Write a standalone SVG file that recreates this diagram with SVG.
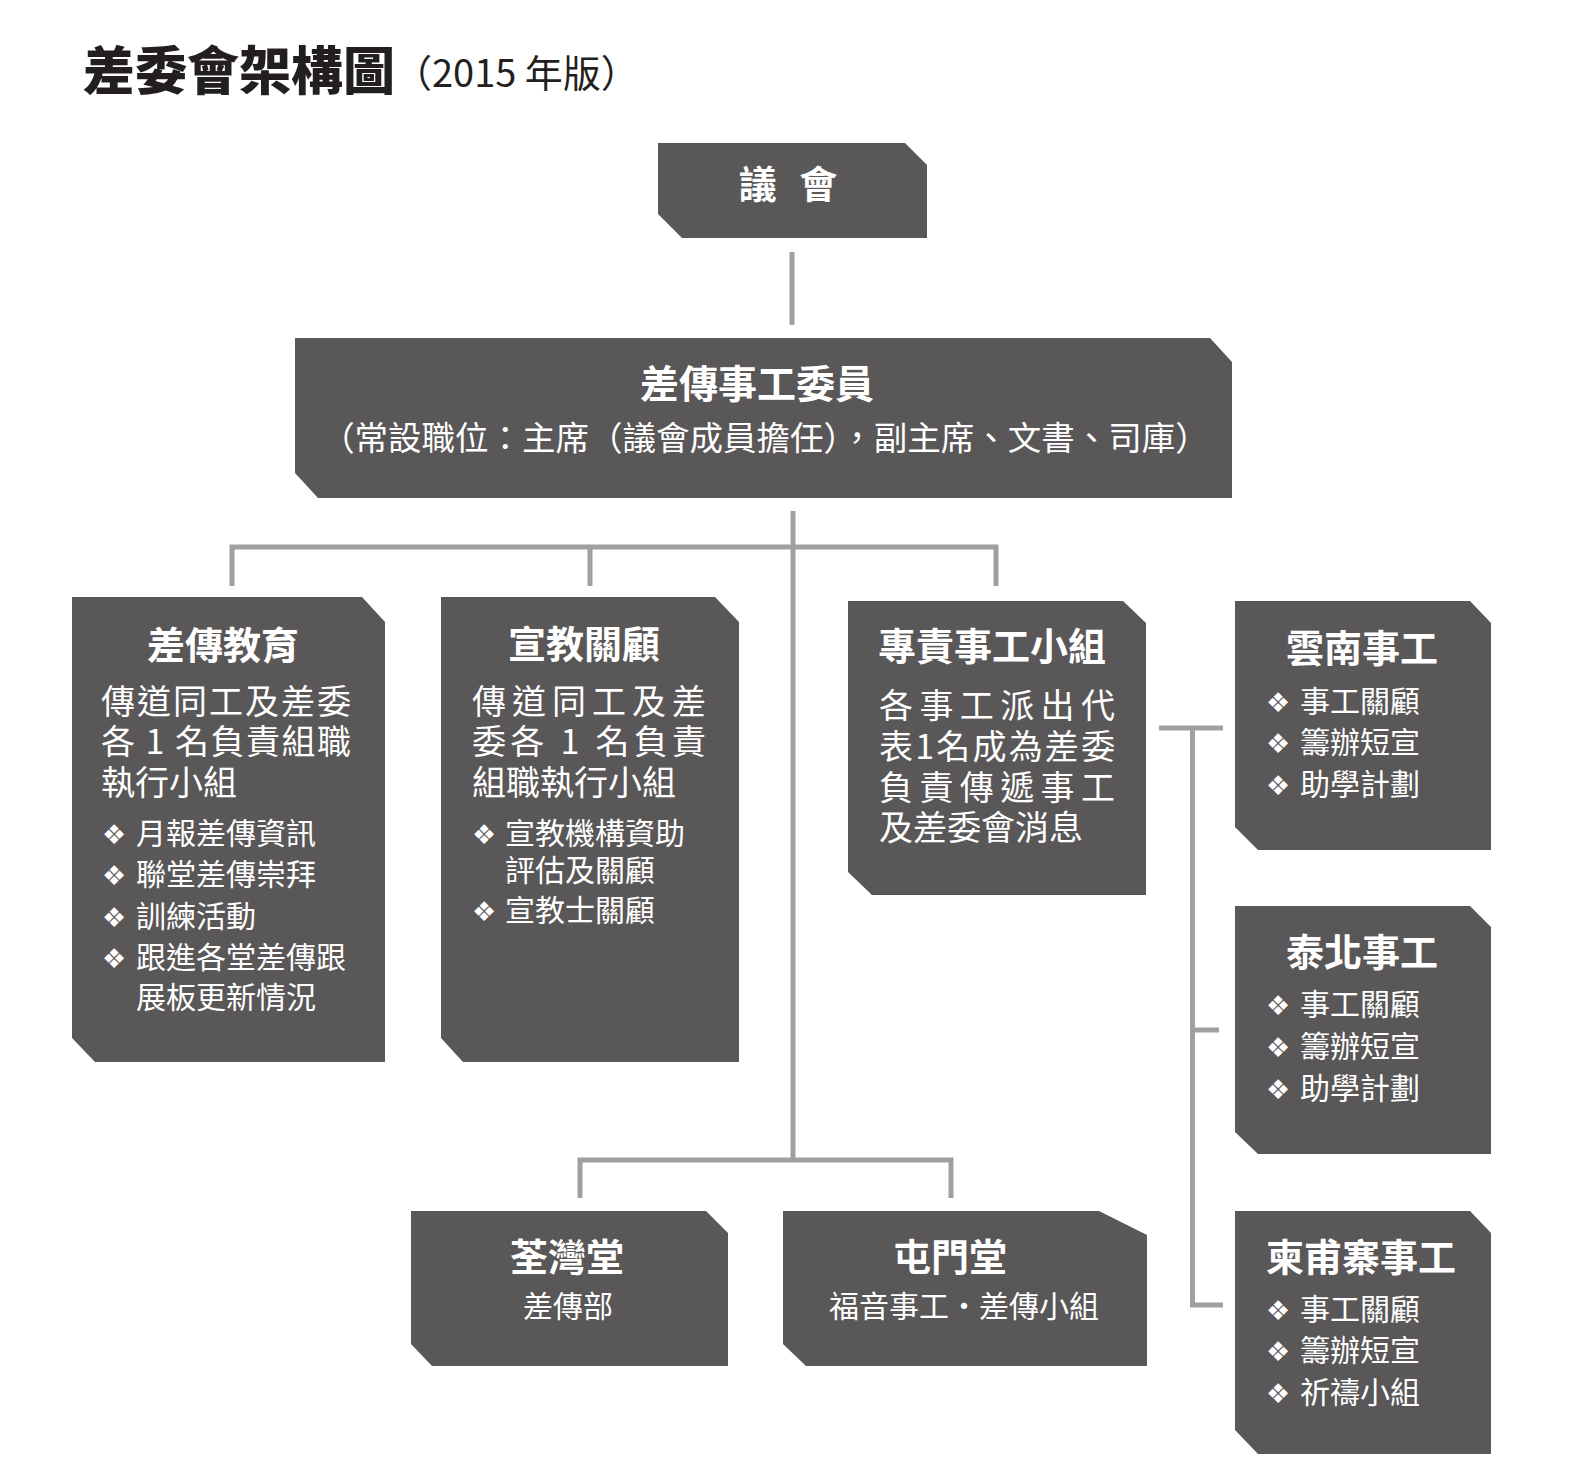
<svg xmlns="http://www.w3.org/2000/svg" width="1570" height="1467" viewBox="0 0 1570 1467">
<style>
.box{fill:#595757}
.conn{fill:none;stroke:#a0a0a0;stroke-width:5}
text{font-family:'Noto Sans CJK TC','Noto Sans CJK SC',sans-serif;fill:#fff}
.ttl{fill:#231f20;font-weight:900;font-size:52px}
.sub{fill:#231f20;font-size:38px}
.h{font-weight:700;font-size:38px;text-anchor:middle}
.p{font-size:34px}
.li{font-size:30px}
.bu{font-family:'DejaVu Sans',sans-serif;font-size:27px}
.c{text-anchor:middle}
</style>
<rect width="1570" height="1467" fill="#fff"/>
<g id="title">
<text class="ttl" x="83" y="90">差委會架構圖</text>
<text class="sub" x="394" y="87">（2015 年版）</text>
</g>
<g id="connectors">
<path class="conn" d="M792 252V325"/>
<path class="conn" d="M793 511V1160"/>
<path class="conn" d="M232 586V547H996V586M590 547V586"/>
<path class="conn" d="M580 1198V1160H951V1198"/>
<path class="conn" d="M1159 728H1223M1192.5 725.5V1305H1223M1192.5 1030H1219"/>
</g>
<g id="n-council">
<path class="box" d="M658 143H905L927 165V238H682L658 214Z"/>
<text class="h" x="788" y="198" word-spacing="14">議 會</text>
</g>
<g id="n-committee">
<path class="box" d="M295 338H1210L1232 362V498H318L295 473Z"/>
<text class="h" x="757" y="398" style="font-size:39px">差傳事工委員</text>
<text class="c" x="765" y="450" style="font-size:33.5px">（常設職位：主席（議會成員擔任），副主席、文書、司庫）</text>
</g>
<g id="n-education">
<path class="box" d="M72 597H362L385 622V1062H95L72 1038Z"/>
<text class="h" x="223" y="659">差傳教育</text>
<text class="p" x="101" y="714" textLength="250" lengthAdjust="spacing">傳道同工及差委</text>
<text class="p" x="101" y="754" textLength="250" lengthAdjust="spacing">各 1 名負責組職</text>
<text class="p" x="101" y="795">執行小組</text>
<text class="li" y="844"><tspan class="bu" x="102">❖</tspan><tspan x="136">月報差傳資訊</tspan></text>
<text class="li" y="885"><tspan class="bu" x="102">❖</tspan><tspan x="136">聯堂差傳崇拜</tspan></text>
<text class="li" y="927"><tspan class="bu" x="102">❖</tspan><tspan x="136">訓練活動</tspan></text>
<text class="li" y="968"><tspan class="bu" x="102">❖</tspan><tspan x="136">跟進各堂差傳跟</tspan></text>
<text class="li" x="136" y="1008">展板更新情況</text>
</g>
<g id="n-care">
<path class="box" d="M441 597H715L739 622V1062H463L441 1038Z"/>
<text class="h" x="584" y="658">宣教關顧</text>
<text class="p" x="472" y="714" textLength="234" lengthAdjust="spacing">傳道同工及差</text>
<text class="p" x="472" y="754" textLength="234" lengthAdjust="spacing">委各 1 名負責</text>
<text class="p" x="472" y="795">組職執行小組</text>
<text class="li" y="844"><tspan class="bu" x="472">❖</tspan><tspan x="505">宣教機構資助</tspan></text>
<text class="li" x="505" y="881">評估及關顧</text>
<text class="li" y="921"><tspan class="bu" x="472">❖</tspan><tspan x="505">宣教士關顧</tspan></text>
</g>
<g id="n-group">
<path class="box" d="M848 601H1123L1146 623V895H872L848 872Z"/>
<text class="h" x="992" y="660">專責事工小組</text>
<text class="p" x="879" y="718" textLength="236" lengthAdjust="spacing">各事工派出代</text>
<text class="p" x="879" y="759" textLength="236" lengthAdjust="spacing">表1名成為差委</text>
<text class="p" x="879" y="800" textLength="236" lengthAdjust="spacing">負責傳遞事工</text>
<text class="p" x="879" y="840">及差委會消息</text>
</g>
<g id="n-yunnan">
<path class="box" d="M1235 601H1470L1491 623V850H1258L1235 827Z"/>
<text class="h" x="1362" y="662">雲南事工</text>
<text class="li" y="712"><tspan class="bu" x="1266">❖</tspan><tspan x="1300">事工關顧</tspan></text>
<text class="li" y="753"><tspan class="bu" x="1266">❖</tspan><tspan x="1300">籌辦短宣</tspan></text>
<text class="li" y="795"><tspan class="bu" x="1266">❖</tspan><tspan x="1300">助學計劃</tspan></text>
</g>
<g id="n-thai">
<path class="box" d="M1235 906H1470L1491 927V1154H1258L1235 1132Z"/>
<text class="h" x="1362" y="966">泰北事工</text>
<text class="li" y="1015"><tspan class="bu" x="1266">❖</tspan><tspan x="1300">事工關顧</tspan></text>
<text class="li" y="1057"><tspan class="bu" x="1266">❖</tspan><tspan x="1300">籌辦短宣</tspan></text>
<text class="li" y="1099"><tspan class="bu" x="1266">❖</tspan><tspan x="1300">助學計劃</tspan></text>
</g>
<g id="n-cambodia">
<path class="box" d="M1235 1211H1470L1491 1233V1454H1258L1235 1430Z"/>
<text class="h" x="1361" y="1271">柬甫寨事工</text>
<text class="li" y="1320"><tspan class="bu" x="1266">❖</tspan><tspan x="1300">事工關顧</tspan></text>
<text class="li" y="1361"><tspan class="bu" x="1266">❖</tspan><tspan x="1300">籌辦短宣</tspan></text>
<text class="li" y="1403"><tspan class="bu" x="1266">❖</tspan><tspan x="1300">祈禱小組</tspan></text>
</g>
<g id="n-tsuenwan">
<path class="box" d="M411 1211H706L728 1233V1366H432L411 1344Z"/>
<text class="h" x="567" y="1271">荃灣堂</text>
<text class="li c" x="568" y="1317">差傳部</text>
</g>
<g id="n-tuenmun">
<path class="box" d="M783 1211H1099L1147 1235V1366H806L783 1344Z"/>
<text class="h" x="950" y="1271">屯門堂</text>
<text class="li c" x="964" y="1317">福音事工・差傳小組</text>
</g>
</svg>
